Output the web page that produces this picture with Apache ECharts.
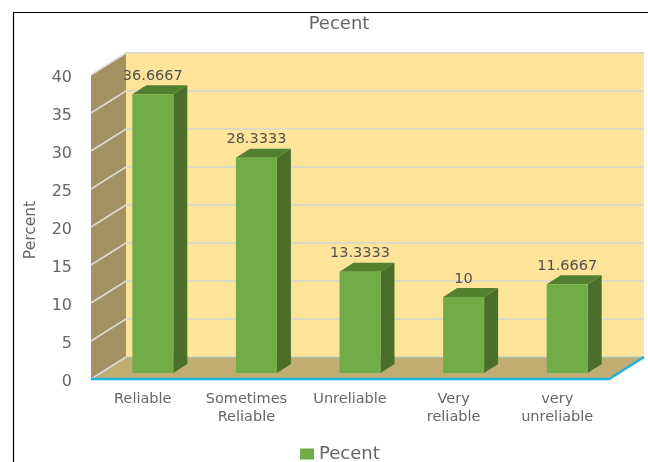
<!DOCTYPE html>
<html>
<head>
<meta charset="utf-8">
<style>html,body{margin:0;padding:0;background:#fff}#c{width:648px;height:462px}</style>
<script src="https://cdn.jsdelivr.net/npm/echarts@6/dist/echarts.min.js"></script>
</head>
<body>
<div id="c"></div>
<script>
var categories = ['Reliable', 'Sometimes\nReliable', 'Unreliable', 'Very\nreliable', 'very\nunreliable'];
var percentValues = [36.6667, 28.3333, 13.3333, 10, 11.6667];
var yTicks = [0, 5, 10, 15, 20, 25, 30, 35, 40];
var seriesName = 'Pecent';
var font = 'DejaVu Sans';
var textColor = '#666666';
var DX = 35, DY = -22;       // depth of the chart box
var BX = 10, BY = -6;        // bar front offset from the box front
var SX = 14, SY = -9;        // bar depth

function poly(points, fill, z) {
  return { type: 'polygon', shape: { points: points }, style: { fill: fill }, z2: z || 0 };
}
function line(x1, y1, x2, y2, stroke, w) {
  return { type: 'line', shape: { x1: x1, y1: y1, x2: x2, y2: y2 }, style: { stroke: stroke, lineWidth: w, fill: null } };
}

function renderWalls(params, api) {
  var cs = params.coordSys, l = cs.x, r = cs.x + cs.width;
  var y0 = api.coord([0, 0])[1], yT = api.coord([0, 40])[1];
  return { type: 'group', children: [
    poly([[l + DX, yT + DY], [r + DX, yT + DY], [r + DX, y0 + DY], [l + DX, y0 + DY]], '#fde498'),
    poly([[l, yT], [l + DX, yT + DY], [l + DX, y0 + DY], [l, y0]], '#a39161'),
    poly([[l, y0], [l + DX, y0 + DY], [r + DX, y0 + DY], [r, y0]], '#c1ad72')
  ]};
}
function renderGrid(params, api) {
  var cs = params.coordSys, l = cs.x, r = cs.x + cs.width;
  var y = api.coord([0, api.value(1)])[1];
  if (api.value(1) === 0) {
    return { type: 'group', children: [
      line(l, y, l + DX, y + DY, '#d9d9d9', 1.5),
      line(l + DX, y + DY, r + DX, y + DY, '#a6d5d8', 1)
    ]};
  }
  return { type: 'group', children: [
    line(l, y, l + DX, y + DY, '#dcdcd6', 1.5),
    line(l + DX, y + DY, r + DX, y + DY, '#dfd8c4', 2)
  ]};
}
function renderAxisEdge(params, api) {
  var cs = params.coordSys, l = cs.x, r = cs.x + cs.width;
  var y = api.coord([0, 0])[1];
  return { type: 'polyline', shape: { points: [[l, y], [r, y], [r + DX, y + DY]] },
    style: { stroke: '#1fb1e2', lineWidth: 2.5, fill: null } };
}
function renderBar(params, api) {
  var i = api.value(0), v = api.value(1);
  var cx = api.coord([i, v])[0] + BX;
  var w = 41;
  var x0 = cx - w / 2, x1 = cx + w / 2;
  var yb = api.coord([i, 0])[1] + BY, yt = api.coord([i, v])[1] + BY;
  return { type: 'group', children: [
    poly([[x1, yt], [x1 + SX, yt + SY], [x1 + SX, yb + SY], [x1, yb]], '#4b6e2a'),
    poly([[x0, yt], [x1, yt], [x1 + SX, yt + SY], [x0 + SX, yt + SY]], '#53802f'),
    poly([[x0, yt], [x1, yt], [x1, yb], [x0, yb]], '#70ad47'),
    { type: 'text', style: { text: String(v), x: cx, y: yt - 18, align: 'center', verticalAlign: 'middle',
      fill: '#505050', font: '14.5px "' + font + '"' } }
  ]};
}

var chart = echarts.init(document.getElementById('c'), null, { renderer: 'canvas' });
chart.setOption({
  animation: false,
  backgroundColor: '#ffffff',
  title: { text: seriesName, left: 334, top: 10, textAlign: 'center',
    textStyle: { fontFamily: font, fontSize: 18, fontWeight: 'normal', color: textColor } },
  legend: { data: [seriesName], left: 295, top: 440, itemWidth: 14, itemHeight: 11, icon: 'rect',
    textStyle: { fontFamily: font, fontSize: 18, color: textColor } },
  grid: { left: 91, right: 39, top: 75, bottom: 83 },
  graphic: [{ type: 'polyline', silent: true, shape: { points: [[13.5, 462], [13.5, 12.5], [648, 12.5]] },
    style: { stroke: '#000', lineWidth: 1.2, fill: null } }],
  xAxis: { type: 'category', data: categories, axisLine: { show: false }, axisTick: { show: false },
    axisLabel: { margin: 11, interval: 0, fontFamily: font, fontSize: 14.5, lineHeight: 18, color: textColor } },
  yAxis: { type: 'value', min: 0, max: 40, interval: 5, splitLine: { show: false },
    axisLine: { show: false }, axisTick: { show: false },
    axisLabel: { margin: 19, verticalAlign: 'top', lineHeight: 6, fontFamily: font, fontSize: 16, color: textColor },
    name: 'Percent', nameLocation: 'middle', nameGap: 52, nameRotate: 90,
    nameTextStyle: { fontFamily: font, fontSize: 15.5, color: textColor, padding: [0, 6, 0, 0] } },
  series: [
    { type: 'custom', name: 'walls', silent: true, z: 1, renderItem: renderWalls, data: [[0, 0]], encode: { x: 0, y: 1 } },
    { type: 'custom', name: 'gridlines', silent: true, z: 2, renderItem: renderGrid,
      data: yTicks.map(function (t) { return [0, t]; }), encode: { x: 0, y: 1 } },
    { type: 'custom', name: 'edge', silent: true, z: 3, renderItem: renderAxisEdge, data: [[0, 0]], encode: { x: 0, y: 1 } },
    { type: 'custom', name: seriesName, z: 4, renderItem: renderBar, itemStyle: { color: '#70ad47' },
      data: percentValues.map(function (v, i) { return [i, v]; }), encode: { x: 0, y: 1 } }
  ]
});
</script>
</body>
</html>
